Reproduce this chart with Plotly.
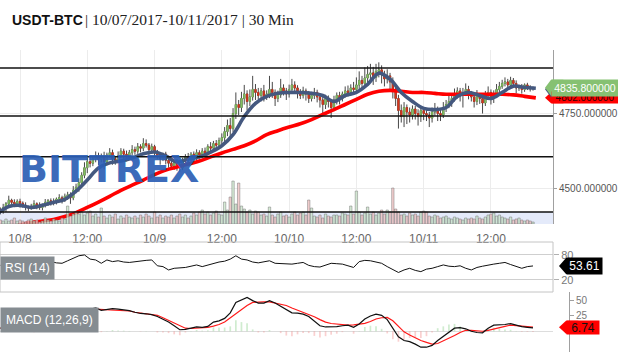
import plotly.graph_objects as go
import pandas as pd

# ---------------- data ----------------
first_open = 4430
closes = [
    4425, 4438, 4450, 4462, 4455, 4448, 4458, 4452,
    4445, 4440, 4436, 4442, 4450, 4446, 4438, 4444, 4455, 4460, 4452, 4458, 4466, 4470, 4462, 4475,
    4480, 4470, 4495, 4505,
    4520, 4545, 4570, 4590, 4585, 4600, 4610, 4598,
    4605, 4590, 4612, 4620, 4600, 4595, 4610, 4625, 4615, 4605, 4620, 4630,
    4625, 4640, 4635, 4650, 4645, 4630, 4640, 4620, 4610, 4600, 4615, 4595,
    4585, 4575, 4590, 4580, 4570, 4595, 4605, 4600, 4615, 4605, 4620, 4612,
    4625, 4618, 4640, 4635, 4650, 4645, 4660, 4670,
    4690, 4710, 4700, 4750, 4780, 4770, 4800, 4815, 4790, 4805, 4830, 4820,
    4810, 4825, 4805, 4815, 4830, 4820, 4800, 4812, 4835, 4825, 4815, 4830, 4845, 4835,
    4820, 4810, 4825, 4815, 4800, 4810, 4820, 4805, 4795, 4780, 4800, 4790, 4770, 4795,
    4810, 4800, 4815, 4825, 4820, 4835, 4830, 4845, 4860, 4850, 4868, 4880,
    4885, 4870, 4890, 4895, 4880, 4865, 4875, 4855,
    4830, 4800, 4760, 4740, 4770, 4755, 4745, 4765, 4750, 4740, 4760, 4750,
    4745, 4735, 4755, 4765, 4750, 4745, 4770, 4780, 4790, 4800, 4815, 4825, 4810, 4820, 4830, 4815,
    4805, 4790, 4810, 4800, 4785, 4810, 4820, 4800, 4815, 4830, 4840, 4850,
    4855, 4845, 4860, 4850, 4835, 4840, 4830, 4845, 4838, 4832, 4835.8,
]
up_wick = [
    8, 12, 6, 15, 5, 10, 7, 9,
    6, 10, 4, 8, 12, 5, 9, 7, 11, 6, 8, 10, 5, 12, 7, 9,
    10, 8, 14, 12,
    15, 10, 18, 12, 20, 8, 14, 10,
    12, 18, 8, 15, 10, 6, 14, 10, 8, 12, 9, 15,
    10, 12, 8, 18, 14, 7, 10, 6, 9, 12, 5, 8,
    7, 10, 6, 9, 12, 8, 10, 14, 7, 9, 11, 8,
    10, 12, 8, 15, 9, 12, 10, 14,
    15, 20, 25, 18, 40, 15, 22, 30, 12, 25, 45, 18,
    15, 10, 20, 12, 45, 25, 10, 14, 30, 12, 10, 16, 20, 12,
    9, 11, 14, 8, 10, 12, 15, 9, 8, 10, 12, 10, 6, 14,
    10, 12, 8, 15, 18, 12, 20, 25, 30, 15, 35, 28,
    30, 20, 25, 25, 15, 12, 22, 10,
    15, 10, 12, 20, 18, 10, 15, 12, 10, 14, 12, 10,
    12, 10, 15, 20, 8, 12, 18, 15, 20, 14, 18, 12, 10, 15, 20, 12,
    10, 12, 18, 8, 10, 15, 20, 10, 12, 18, 15, 12,
    15, 10, 12, 8, 10, 6, 8, 5, 7, 6, 4,
]
dn_wick = [
    10, 8, 15, 6, 12, 9, 7, 14,
    8, 12, 10, 6, 9, 14, 8, 10, 6, 12, 8, 7, 10, 9, 11, 6,
    12, 20, 8, 10,
    15, 12, 10, 18, 14, 10, 12, 20,
    10, 25, 12, 8, 20, 15, 10, 8, 18, 14, 9, 10,
    12, 9, 14, 10, 8, 18, 10, 15, 12, 20, 8, 14,
    15, 10, 12, 20, 14, 8, 10, 12, 9, 15, 10, 12,
    10, 14, 8, 12, 10, 9, 12, 15,
    20, 15, 30, 12, 18, 25, 15, 20, 30, 15, 12, 25,
    12, 20, 15, 10, 14, 18, 25, 12, 10, 15, 20, 12, 14, 18,
    20, 12, 10, 22, 15, 10, 12, 18, 25, 30, 15, 20, 35, 12,
    15, 20, 10, 12, 14, 10, 18, 12, 15, 20, 12, 15,
    18, 25, 15, 20, 30, 25, 15, 30,
    30, 25, 60, 20, 35, 40, 25, 15, 20, 30, 18, 22,
    20, 30, 15, 12, 25, 20, 10, 15, 12, 18, 10, 15, 20, 40, 12, 18,
    15, 20, 12, 18, 35, 10, 12, 20, 15, 10, 12, 8,
    10, 15, 8, 12, 18, 10, 14, 8, 10, 9, 6,
]
volumes = [
    4, 3, 5, 3, 4, 6, 3, 4,
    3, 2, 4, 5, 3, 4, 2, 3, 6, 4, 3, 5, 4, 3, 6, 5,
    18, 8, 10, 12,
    10, 12, 9, 11, 13, 8, 10, 7,
    16, 8, 6, 9, 7, 10, 5, 8, 6, 9, 7, 6,
    8, 6, 9, 7, 10, 8, 6, 12, 7, 9, 6, 8,
    7, 9, 6, 8, 10, 7, 9, 6, 8, 11, 9, 12,
    14, 10, 12, 9, 11, 13, 10, 9,
    22, 14, 27, 43, 20, 41, 18, 15, 12, 14, 10, 13,
    12, 9, 10, 8, 17, 9, 7, 10, 12, 8, 9, 7, 10, 12,
    9, 11, 12, 9, 24, 16, 8, 7, 9, 6, 10, 8, 7, 9,
    9, 8, 11, 10, 9, 18, 10, 33, 12, 9, 11, 17,
    10, 12, 9, 11, 14, 10, 14, 12,
    36, 15, 12, 9, 10, 8, 11, 9, 10, 8, 12, 13,
    12, 8, 7, 9, 8, 6, 7, 8, 6, 5, 7, 6, 5, 4, 6, 5,
    6, 5, 8, 6, 5, 7, 9, 10, 11, 8, 9, 7,
    6, 5, 7, 4, 5, 6, 4, 3, 4, 3, 2,
]
# moving averages, every 2 hours from 10/07 20:00
blue_ma = [4418, 4441, 4445, 4438, 4445, 4455, 4465, 4492, 4529, 4569, 4586, 4592, 4602,
           4616, 4622, 4609, 4589, 4599, 4606, 4622, 4643, 4680, 4740, 4784, 4807, 4817,
           4820, 4820, 4817, 4810, 4790, 4810, 4820, 4847, 4884, 4864, 4820, 4790, 4767,
           4763, 4770, 4807, 4820, 4810, 4800, 4820, 4841, 4837, 4834]
red_ma = [4365, 4372, 4380, 4388, 4393, 4398, 4408, 4421, 4438, 4456, 4475, 4495, 4512,
          4529, 4547, 4562, 4572, 4582, 4592, 4606, 4619, 4631, 4643, 4659, 4680, 4693,
          4705, 4716, 4730, 4747, 4763, 4780, 4797, 4814, 4824, 4827, 4824, 4820, 4820,
          4817, 4814, 4814, 4814, 4814, 4814, 4814, 4812, 4807, 4802]
# oscillators, hourly from 10/07 20:30
rsi = [55, 58, 60, 57, 55, 58, 52, 56, 60, 64,
       61, 60, 66, 72, 78, 80, 70, 68, 60, 68,
       64, 66, 63, 62, 64, 66, 67, 68, 54, 52,
       44, 48, 49, 50, 53, 56, 52, 56, 60, 63,
       65, 70, 78, 70, 68, 63, 61, 64, 66, 60,
       59, 58, 58, 60, 62, 55, 52, 51, 55, 60,
       59, 58, 54, 50, 64, 67, 66, 63, 60, 52,
       45, 38, 44, 48, 43, 40, 46, 48, 52, 56,
       53, 52, 54, 48, 44, 50, 53, 56, 58, 60,
       62, 57, 52, 48, 52, 53.61]
macd = [5, 6, 7, 6, 5, 4, 3, 3, 4, 5,
        6, 7, 9, 13, 20, 28, 36, 38, 34, 36,
        37, 36, 35, 33.5, 31, 29, 28.5, 27, 24, 20,
        15, 9, 2.5, 3, 5, 7, 6.5, 8, 15, 17,
        21, 30, 47, 51, 55, 50, 46, 46, 50, 46,
        41, 35, 30, 29.5, 28, 24, 16, 9, 7, 7,
        7.5, 9, 10, 6.5, 12, 20, 25, 28, 26, 19,
        4, -9, -15, -17, -21, -26, -26, -23, -15, -8,
        -1, 5, 6, 4, 0, -2, -2.5, 5, 10, 10,
        11, 12.5, 10, 7.5, 6.5, 5.6]
signal = [5, 5.5, 6, 6, 5.5, 5, 4.5, 4, 4, 4.5,
          5, 6, 7, 9, 14, 22, 31, 36, 35.5, 35.5,
          35, 34.6, 34, 33, 31, 29.5, 28, 27, 26, 22,
          18, 14, 9, 5, 4.5, 5, 5.5, 6.5, 8.5, 11,
          15, 22, 29, 36, 42, 47, 48, 48, 48, 46,
          44, 42, 38, 34.5, 31, 27, 23.6, 19, 15, 12.6,
          11.5, 10.5, 10, 10.5, 11.5, 13, 16, 20, 22, 22.5,
          17, 8, -1, -6, -11, -15, -18, -21, -20, -16,
          -12, -7, -2, 1.6, 1.5, 0.5, 0, 1.5, 4, 6,
          8, 10, 9.5, 8.5, 7.5, 6.74]
level_lines = [4901, 4742, 4606, 4423]
x_tick_times = ["2017-10-08 00:00", "2017-10-08 12:00", "2017-10-09 00:00", "2017-10-09 12:00",
                "2017-10-10 00:00", "2017-10-10 12:00", "2017-10-11 00:00", "2017-10-11 12:00"]
x_tick_text = ["10/8", "12:00", "10/9", "12:00", "10/10", "12:00", "10/11", "12:00"]
price_ticks = [4500, 4750]
rsi_ticks = [20, 80]
macd_ticks = [25, 50]
x_range = ["2017-10-07 20:26", "2017-10-11 23:04"]
price_range = [4383, 4961]
rsi_range = [-8.8, 111]
macd_range = [-33.8, 64]

# ---------------- derived ----------------
bar_times = pd.date_range("2017-10-07 20:30", periods=len(closes), freq="30min")
ma_times = pd.date_range("2017-10-07 20:00", periods=len(blue_ma), freq="2h")
osc_times = pd.date_range("2017-10-07 20:30", periods=len(rsi), freq="1h")

opens = [first_open] + closes[:-1]
highs = [max(o, c) + u for o, c, u in zip(opens, closes, up_wick)]
lows = [min(o, c) - d for o, c, d in zip(opens, closes, dn_wick)]
body_hi = [max(o, c) for o, c in zip(opens, closes)]
body_lo = [min(o, c) for o, c in zip(opens, closes)]
vol_colors = ["rgba(200,228,200,0.75)" if c >= o else "rgba(238,192,192,0.8)"
              for o, c in zip(opens, closes)]
hist = [m - s for m, s in zip(macd, signal)]
hist_colors = ["rgba(120,200,120,0.35)" if h >= 0 else "rgba(240,120,120,0.35)" for h in hist]

W, H = 618, 352
XD = [0, 553 / W]
main_dom = [1 - 224 / H, 1 - 50 / H]
rsi_dom = [1 - 292 / H, 1 - 242 / H]
macd_dom = [0, 1 - 292 / H]
FONT = "Liberation Sans, Arial, sans-serif"

GREEN = "#86c172"
RED = "#ff0000"
BLUE = "#44587f"

fig = go.Figure()

# volume
fig.add_trace(go.Bar(x=bar_times, y=volumes, marker=dict(color=vol_colors,
                     line=dict(color="rgba(110,110,110,0.75)", width=0.6)),
                     width=1800000 * 0.85, xaxis="x", yaxis="y4", hoverinfo="skip"))
# candle wicks
fig.add_trace(go.Candlestick(x=bar_times, open=opens, high=highs, low=lows, close=closes,
                             increasing=dict(line=dict(color="#333333", width=0.9), fillcolor="#333333"),
                             decreasing=dict(line=dict(color="#333333", width=0.9), fillcolor="#333333"),
                             whiskerwidth=0, xaxis="x", yaxis="y", hoverinfo="skip"))
# candle bodies
fig.add_trace(go.Candlestick(x=bar_times, open=opens, high=body_hi, low=body_lo, close=closes,
                             increasing=dict(line=dict(color="#83c060", width=0.6), fillcolor="#83c060"),
                             decreasing=dict(line=dict(color="#d8361b", width=0.6), fillcolor="#d8361b"),
                             whiskerwidth=0, xaxis="x", yaxis="y", hoverinfo="skip"))
fig.add_trace(go.Scatter(x=ma_times, y=red_ma, mode="lines", line=dict(color=RED, width=3.6, shape="spline"),
                         xaxis="x", yaxis="y", hoverinfo="skip"))
fig.add_trace(go.Scatter(x=ma_times, y=blue_ma, mode="lines", line=dict(color=BLUE, width=3.6, shape="spline"),
                         xaxis="x", yaxis="y", hoverinfo="skip"))
# RSI
fig.add_trace(go.Scatter(x=osc_times, y=rsi, mode="lines", line=dict(color="#111", width=1),
                         xaxis="x2", yaxis="y2", hoverinfo="skip"))
# MACD
fig.add_trace(go.Bar(x=osc_times, y=hist, marker=dict(color=hist_colors, line=dict(width=0)),
                     width=1100000, xaxis="x3", yaxis="y3", hoverinfo="skip"))
fig.add_trace(go.Scatter(x=osc_times, y=signal, mode="lines", line=dict(color="#ff1a1a", width=1.2),
                         xaxis="x3", yaxis="y3", hoverinfo="skip"))
fig.add_trace(go.Scatter(x=osc_times, y=macd, mode="lines", line=dict(color="#111", width=1.2),
                         xaxis="x3", yaxis="y3", hoverinfo="skip"))

shapes = []
# volume band
shapes.append(dict(type="rect", xref="paper", yref="y", x0=XD[0], x1=XD[1], y0=price_range[0],
                   y1=level_lines[3], fillcolor="#e4eafa", line=dict(width=0), layer="below"))
for lv in level_lines:
    shapes.append(dict(type="line", xref="paper", yref="y", x0=XD[0], x1=XD[1], y0=lv, y1=lv,
                       line=dict(color="#111", width=1.5)))
# RSI box
shapes.append(dict(type="rect", xref="paper", yref="paper", x0=XD[0], x1=XD[1], y0=rsi_dom[0],
                   y1=rsi_dom[1], line=dict(color="#c4c4c4", width=1)))

annotations = []


def units_per_px(rng, dom):
    return (rng[1] - rng[0]) / ((dom[1] - dom[0]) * H)


def add_tag(yref, yval, upp, tip_px, body_px, width_px, half_px, color, text, tcolor, fsize):
    hy = half_px * upp
    xt, xb = tip_px / W, body_px / W
    shapes.append(dict(type="path", xref="paper", yref=yref, layer="above",
                       path=f"M {xt},{yval} L {xb},{yval + hy} L {xb + 0.02},{yval + hy} "
                            f"L {xb + 0.02},{yval - hy} L {xb},{yval - hy} Z",
                       fillcolor=color, line=dict(width=0)))
    if text:
        annotations.append(dict(xref="paper", yref=yref, x=xb, y=yval, xanchor="left", yanchor="middle",
                                text=text, showarrow=False, bgcolor=color, width=width_px,
                                height=2 * half_px, borderpad=0, align="center",
                                font=dict(family=FONT, size=fsize, color=tcolor)))
    else:
        shapes.append(dict(type="rect", xref="paper", yref=yref, layer="above",
                           x0=xb, x1=1.0, y0=yval - hy, y1=yval + hy,
                           fillcolor=color, line=dict(width=0)))


upp_main = units_per_px(price_range, main_dom)
add_tag("y", red_ma[-1], upp_main, 545, 551, 66, 5.5, RED, f"{red_ma[-1]:.6f}", "#3a0000", 10)
add_tag("y", blue_ma[-1] - 3, upp_main, 545, 551, 66, 8, BLUE, "", "white", 10)
add_tag("y", closes[-1], upp_main, 545, 551, 66, 8, GREEN, f"{closes[-1]:.6f}", "white", 10.5)
add_tag("y2", rsi[-1], units_per_px(rsi_range, rsi_dom), 559, 566, 35, 8, "#000", f"{rsi[-1]:.2f}", "white", 12)
add_tag("y3", signal[-1], units_per_px(macd_range, macd_dom), 559, 566, 32, 6.5, RED, f"{signal[-1]:.2f}", "#111", 12)

# title
annotations.append(dict(xref="paper", yref="paper", x=10 / W, y=1 - 20 / H, xanchor="left", yanchor="middle",
                        text="<b>USDT-BTC</b>", showarrow=False,
                        font=dict(family=FONT, size=14, color="#111")))
annotations.append(dict(xref="paper", yref="paper", x=83 / W, y=1 - 20 / H, xanchor="left", yanchor="middle",
                        text="| 10/07/2017-10/11/2017 | 30 Min", showarrow=False,
                        font=dict(family="Liberation Serif, serif", size=15.5, color="#222")))
# watermark
annotations.append(dict(xref="paper", yref="paper", x=109 / W, y=1 - 169 / H, xanchor="center", yanchor="middle",
                        text="<b>BITTREX</b>", showarrow=False, opacity=0.92,
                        font=dict(family="DejaVu Sans, sans-serif", size=38, color="#2c5fb5")))
# panel labels
annotations.append(dict(xref="paper", yref="paper", x=0, y=1 - 267.5 / H, xanchor="left", yanchor="middle",
                        text="RSI (14)", showarrow=False, bgcolor="#858c91", borderpad=4,
                        font=dict(family=FONT, size=12, color="white")))
annotations.append(dict(xref="paper", yref="paper", x=0, y=1 - 320 / H, xanchor="left", yanchor="middle",
                        text="MACD (12,26,9)", showarrow=False, bgcolor="#858c91", borderpad=5,
                        font=dict(family=FONT, size=12, color="white")))

axis_common = dict(automargin=False, zeroline=False)
fig.update_layout(
    template="none",
    width=W, height=H,
    margin=dict(l=0, r=0, t=0, b=0),
    paper_bgcolor="white", plot_bgcolor="rgba(0,0,0,0)",
    showlegend=False, barmode="overlay",
    font=dict(family=FONT, size=12, color="#555"),
    xaxis=dict(domain=XD, type="date", range=x_range, anchor="y", tickvals=x_tick_times,
               ticktext=x_tick_text, showgrid=True, gridcolor="#ececec", gridwidth=1,
               ticks="outside", ticklen=4, tickcolor="rgba(0,0,0,0)", showline=False,
               tickfont=dict(family=FONT, size=12, color="#666"), rangeslider=dict(visible=False),
               **axis_common),
    yaxis=dict(domain=main_dom, range=price_range, side="right", anchor="x", tickvals=price_ticks,
               ticktext=[f"{v:.6f}" for v in price_ticks], showgrid=True, gridcolor="#ececec",
               showline=True, linecolor="#a0a0a0", linewidth=1, ticks="outside", ticklen=3,
               tickcolor="#a0a0a0", tickfont=dict(family=FONT, size=10, color="#555"), **axis_common),
    yaxis4=dict(overlaying="y", range=[0, max(volumes) * 4.05], visible=False, **axis_common),
    xaxis2=dict(domain=XD, matches="x", anchor="y2", showticklabels=False, showgrid=False,
                ticks="", type="date", **axis_common),
    yaxis2=dict(domain=rsi_dom, range=rsi_range, side="right", anchor="x2", tickvals=rsi_ticks,
                showgrid=True, gridcolor="#cfcfcf", showline=False, ticks="outside", ticklen=5,
                tickcolor="#b0b0b0", tickfont=dict(family=FONT, size=11, color="#777"), **axis_common),
    xaxis3=dict(domain=XD, matches="x", anchor="y3", showticklabels=False, showgrid=False,
                ticks="", type="date", **axis_common),
    yaxis3=dict(domain=macd_dom, range=macd_range, side="right", anchor="free", position=569 / W,
                tickvals=macd_ticks, showgrid=False, showline=True, linecolor="#a0a0a0",
                ticks="outside", ticklen=4, tickcolor="#a0a0a0",
                tickfont=dict(family=FONT, size=10, color="#777"), automargin=False,
                zeroline=True, zerolinecolor="#dddddd", zerolinewidth=1),
    shapes=shapes,
    annotations=annotations,
)

fig.write_html("out.html")
